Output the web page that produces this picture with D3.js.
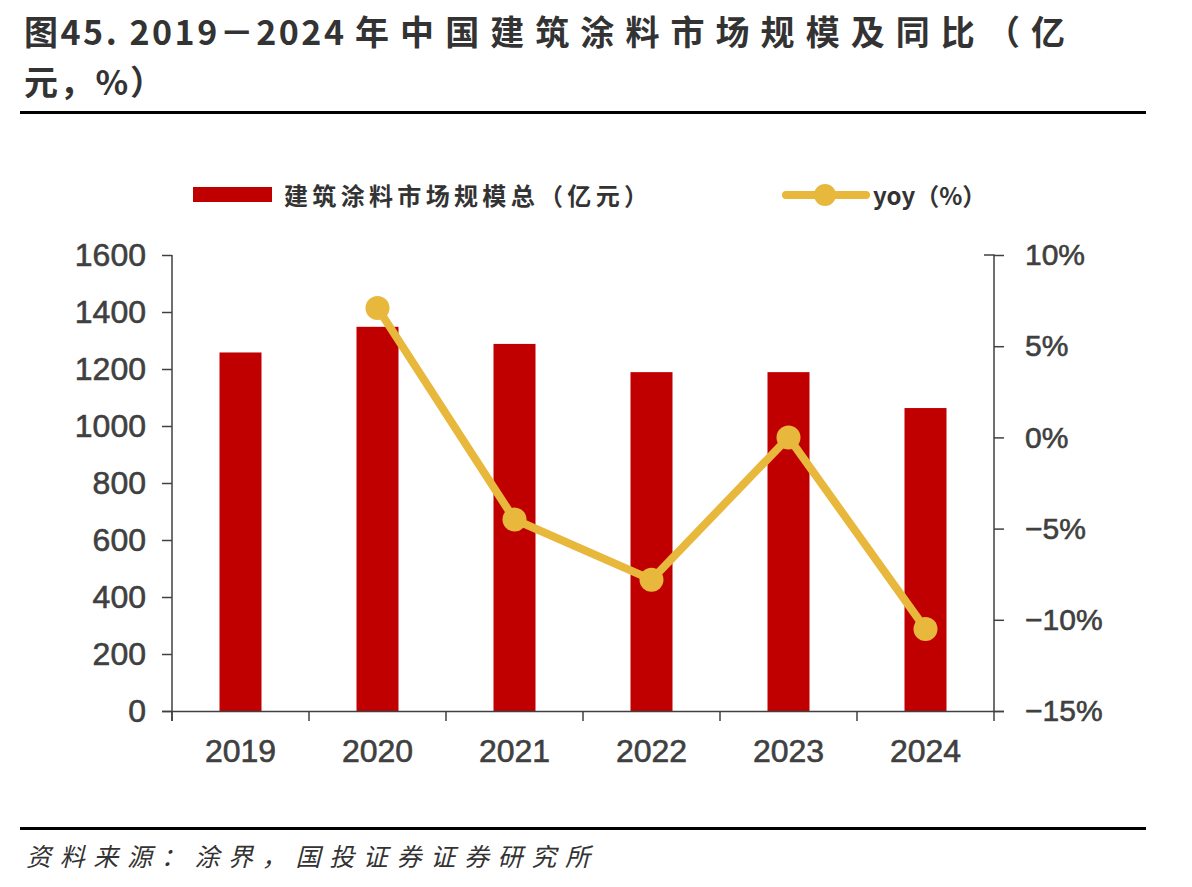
<!DOCTYPE html>
<html><head><meta charset="utf-8">
<script src="https://cdn.jsdelivr.net/npm/d3@7"></script>
<style>body{margin:0;background:#fff}svg{display:block}</style>
</head><body><svg id="c" width="1192" height="887"></svg>
<script>
const categories = ["2019","2020","2021","2022","2023","2024"];
const marketSize = [1258, 1348, 1288, 1189, 1189, 1063];
const yoy = [null, 7.1, -4.5, -7.8, 0.0, -10.5];
const leftTicks = [0,200,400,600,800,1000,1200,1400,1600];
const rightTicks = [-15,-10,-5,0,5,10];
const titleParts = ["图45. 2019－2024","年中国建筑涂料市场规模及同比（亿","元，%）"];
const legendLabels = ["建筑涂料市场规模总（亿元）","yoy（%）"];
const sourceText = "资料来源：涂界，国投证券证券研究所";

const svg = d3.select("#c");
const cjk = "'Noto Sans CJK SC', sans-serif";
const num = "'Liberation Sans', Arial, sans-serif";
const axisColor = "#404040";
const barColor = "#C00000";
const lineColor = "#E8B83C";

// Title
const titlePos = [[24,45,320],[355,45,710],[24,95,140]];
svg.selectAll("text.title").data(titleParts).join("text")
  .attr("x", (d,i)=>titlePos[i][0]).attr("y", (d,i)=>titlePos[i][1])
  .attr("font-family", cjk).attr("font-size", 34).attr("font-weight", "bold")
  .attr("textLength", (d,i)=>titlePos[i][2]).attr("lengthAdjust","spacing")
  .attr("fill", "#333").text(d=>d);
svg.append("rect").attr("x",20).attr("y",111).attr("width",1126).attr("height",3).attr("fill","#000");
svg.append("rect").attr("x",20).attr("y",827).attr("width",1126).attr("height",3).attr("fill","#000");
svg.append("text").attr("x",26).attr("y",866).attr("font-family",cjk).attr("font-size",25)
  .attr("font-style","italic").attr("fill","#333")
  .attr("textLength",564).attr("lengthAdjust","spacing").text(sourceText);

// Scales
const x = d3.scaleBand().domain(categories).range([172, 994]).paddingInner(0).paddingOuter(0);
const yL = d3.scaleLinear().domain([0,1600]).range([711, 255]);
const yR = d3.scaleLinear().domain([-15,10]).range([711, 255]);

// Bars
const bw = 42;
svg.selectAll("rect.bar").data(categories).join("rect")
  .attr("x", d => x(d) + x.bandwidth()/2 - bw/2)
  .attr("y", (d,i) => yL(marketSize[i]))
  .attr("width", bw)
  .attr("height", (d,i) => yL(0) - yL(marketSize[i]))
  .attr("fill", barColor);

// Axes
const gL = svg.append("g").attr("transform","translate(172,0)")
  .call(d3.axisLeft(yL).tickValues(leftTicks).tickSize(10).tickPadding(16).tickFormat(d3.format("d")));
const gR = svg.append("g").attr("transform","translate(994,0)")
  .call(d3.axisRight(yR).tickValues(rightTicks).tickSize(10).tickPadding(21)
    .tickFormat(d => (d<0 ? "\u2212"+Math.abs(d) : d) + "%"));
const gX = svg.append("g").attr("transform","translate(0,711)")
  .call(d3.axisBottom(x).tickSize(0).tickPadding(28));
const bounds = categories.map(c=>x(c)).concat([994]);
svg.selectAll("line.xt").data(bounds).join("line")
  .attr("x1", d=>d).attr("x2", d=>d).attr("y1", 711).attr("y2", 721)
  .attr("stroke", axisColor).attr("stroke-width", 1.5);

[gL,gR,gX].forEach(g=>{
  g.select(".domain").attr("stroke", axisColor).attr("stroke-width",1.5);
  g.selectAll(".tick line").attr("stroke", axisColor).attr("stroke-width",1.5);
  g.selectAll(".tick text").attr("fill", "#404040").attr("font-family", num).attr("font-size", 32)
    .attr("stroke","#404040").attr("stroke-width",0.6);
});
gR.selectAll(".tick text").attr("font-size", 30);
gX.select(".domain").attr("d","M162,0.5H1004");
gL.select(".domain").attr("d","M0,255V721");
gR.select(".domain").attr("d","M-10,255H0V711");
gX.selectAll(".tick text").attr("dy","0.71em");

// Line
const pts = categories.map((c,i)=>({c, v: yoy[i]})).filter(d=>d.v!==null);
const line = d3.line().x(d=>x(d.c)+x.bandwidth()/2).y(d=>yR(d.v));
svg.append("path").datum(pts).attr("d", line).attr("fill","none")
  .attr("stroke", lineColor).attr("stroke-width", 8).attr("stroke-linejoin","round");
svg.selectAll("circle.pt").data(pts).join("circle")
  .attr("cx", d=>x(d.c)+x.bandwidth()/2).attr("cy", d=>yR(d.v)).attr("r", 12)
  .attr("fill", lineColor);

// Legend
svg.append("rect").attr("x",193).attr("y",187).attr("width",79).attr("height",15).attr("fill",barColor);
svg.append("text").attr("x",284).attr("y",205).attr("font-family",cjk).attr("font-size",24)
  .attr("font-weight","bold").attr("fill","#333")
  .attr("textLength",364).attr("lengthAdjust","spacing").text(legendLabels[0]);
svg.append("line").attr("x1",786).attr("x2",866).attr("y1",195).attr("y2",195)
  .attr("stroke",lineColor).attr("stroke-width",8).attr("stroke-linecap","round");
svg.append("circle").attr("cx",825).attr("cy",195).attr("r",11).attr("fill",lineColor);
svg.append("text").attr("x",873).attr("y",205).attr("font-family",cjk).attr("font-size",24)
  .attr("font-weight","bold").attr("fill","#333").text(legendLabels[1]);
</script></body></html>
